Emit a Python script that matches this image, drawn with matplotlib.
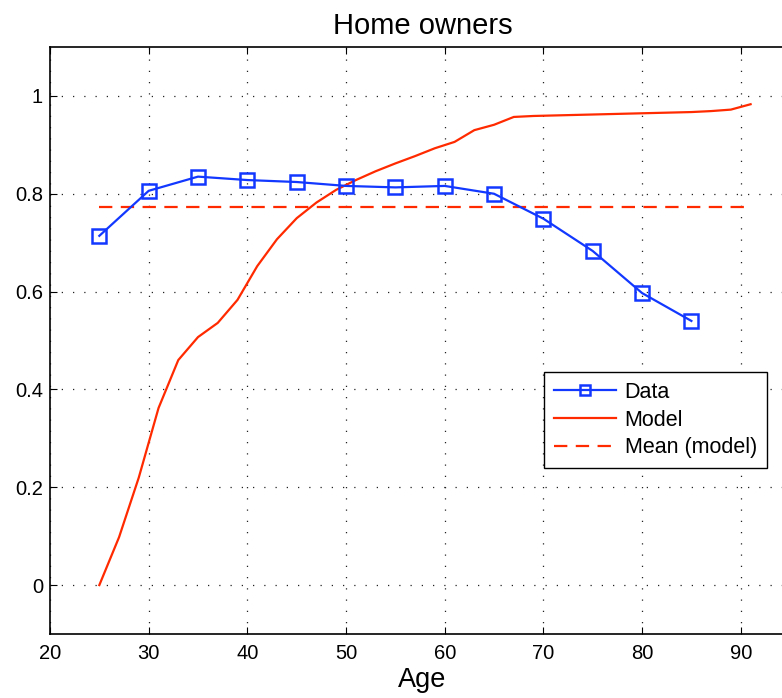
import matplotlib
matplotlib.use("Agg")
import matplotlib.pyplot as plt

plt.rcParams['font.family'] = ['Liberation Sans', 'DejaVu Sans']

# Observed ownership share by age
data_age = [25, 30, 35, 40, 45, 50, 55, 60, 65, 70, 75, 80, 85]
data_share = [0.714, 0.806, 0.835, 0.828, 0.824, 0.816, 0.813, 0.816,
              0.800, 0.749, 0.683, 0.597, 0.540]

# Simulated ownership share by age
model_age = list(range(25, 92, 2))
model_share = [0.000, 0.098, 0.220, 0.362, 0.460, 0.507, 0.536, 0.583,
               0.652, 0.707, 0.750, 0.782, 0.808, 0.828, 0.846, 0.862,
               0.877, 0.893, 0.906, 0.930, 0.941, 0.957, 0.959, 0.960,
               0.961, 0.962, 0.963, 0.964, 0.965, 0.966, 0.967, 0.969,
               0.972, 0.983]

mean_model = 0.773
mean_span = [25, 91]

x_ticks = [20, 30, 40, 50, 60, 70, 80, 90]
y_ticks = [0, 0.2, 0.4, 0.6, 0.8, 1]
y_tick_labels = ['0', '0.2', '0.4', '0.6', '0.8', '1']

blue = '#1238ff'
red = '#ff2a00'

fig = plt.figure(figsize=(7.82, 6.98), dpi=100)
ax = fig.add_axes([50 / 782, 64 / 698, 745 / 782, 587 / 698])

ax.plot(data_age, data_share, color=blue, lw=1.6, marker='s', ms=9.5,
        mfc='none', mec=blue, mew=1.8, label='Data', zorder=4)
ax.plot(model_age, model_share, color=red, lw=1.6, label='Model', zorder=3)
ax.plot(mean_span, [mean_model, mean_model], color=red, lw=1.6,
        ls=(0, (6, 3.8)), label='Mean (model)', zorder=3)

ax.set_xlim(20, 95.5)
ax.set_ylim(-0.1, 1.1)
ax.set_xticks(x_ticks)
ax.set_yticks(y_ticks)
ax.set_yticklabels(y_tick_labels)

ax.grid(True, color='#222222', ls=(0, (1, 8)), lw=0.9)
ax.tick_params(direction='in', length=5, width=0.8, labelsize=14.5,
               top=True, right=False)
ax.tick_params(axis='x', pad=7)
ax.tick_params(axis='y', pad=5)
for side in ('left', 'bottom', 'top'):
    ax.spines[side].set_linewidth(1.2)
ax.spines['right'].set_visible(False)

ax.set_title('Home owners', fontsize=21, pad=9)
ax.set_xlabel('Age', fontsize=19.5, labelpad=3)

leg = ax.legend(loc='upper left',
                bbox_to_anchor=((544 - 50) / 745, (634 - 372) / 587),
                fontsize=15.5, frameon=True, fancybox=False, edgecolor='black',
                framealpha=1, borderpad=0.45, labelspacing=0.32,
                handlelength=2.9, handletextpad=0.4, borderaxespad=0,
                markerscale=0.7)
leg.get_frame().set_linewidth(1.0)

fig.savefig('out.png', dpi=100)
